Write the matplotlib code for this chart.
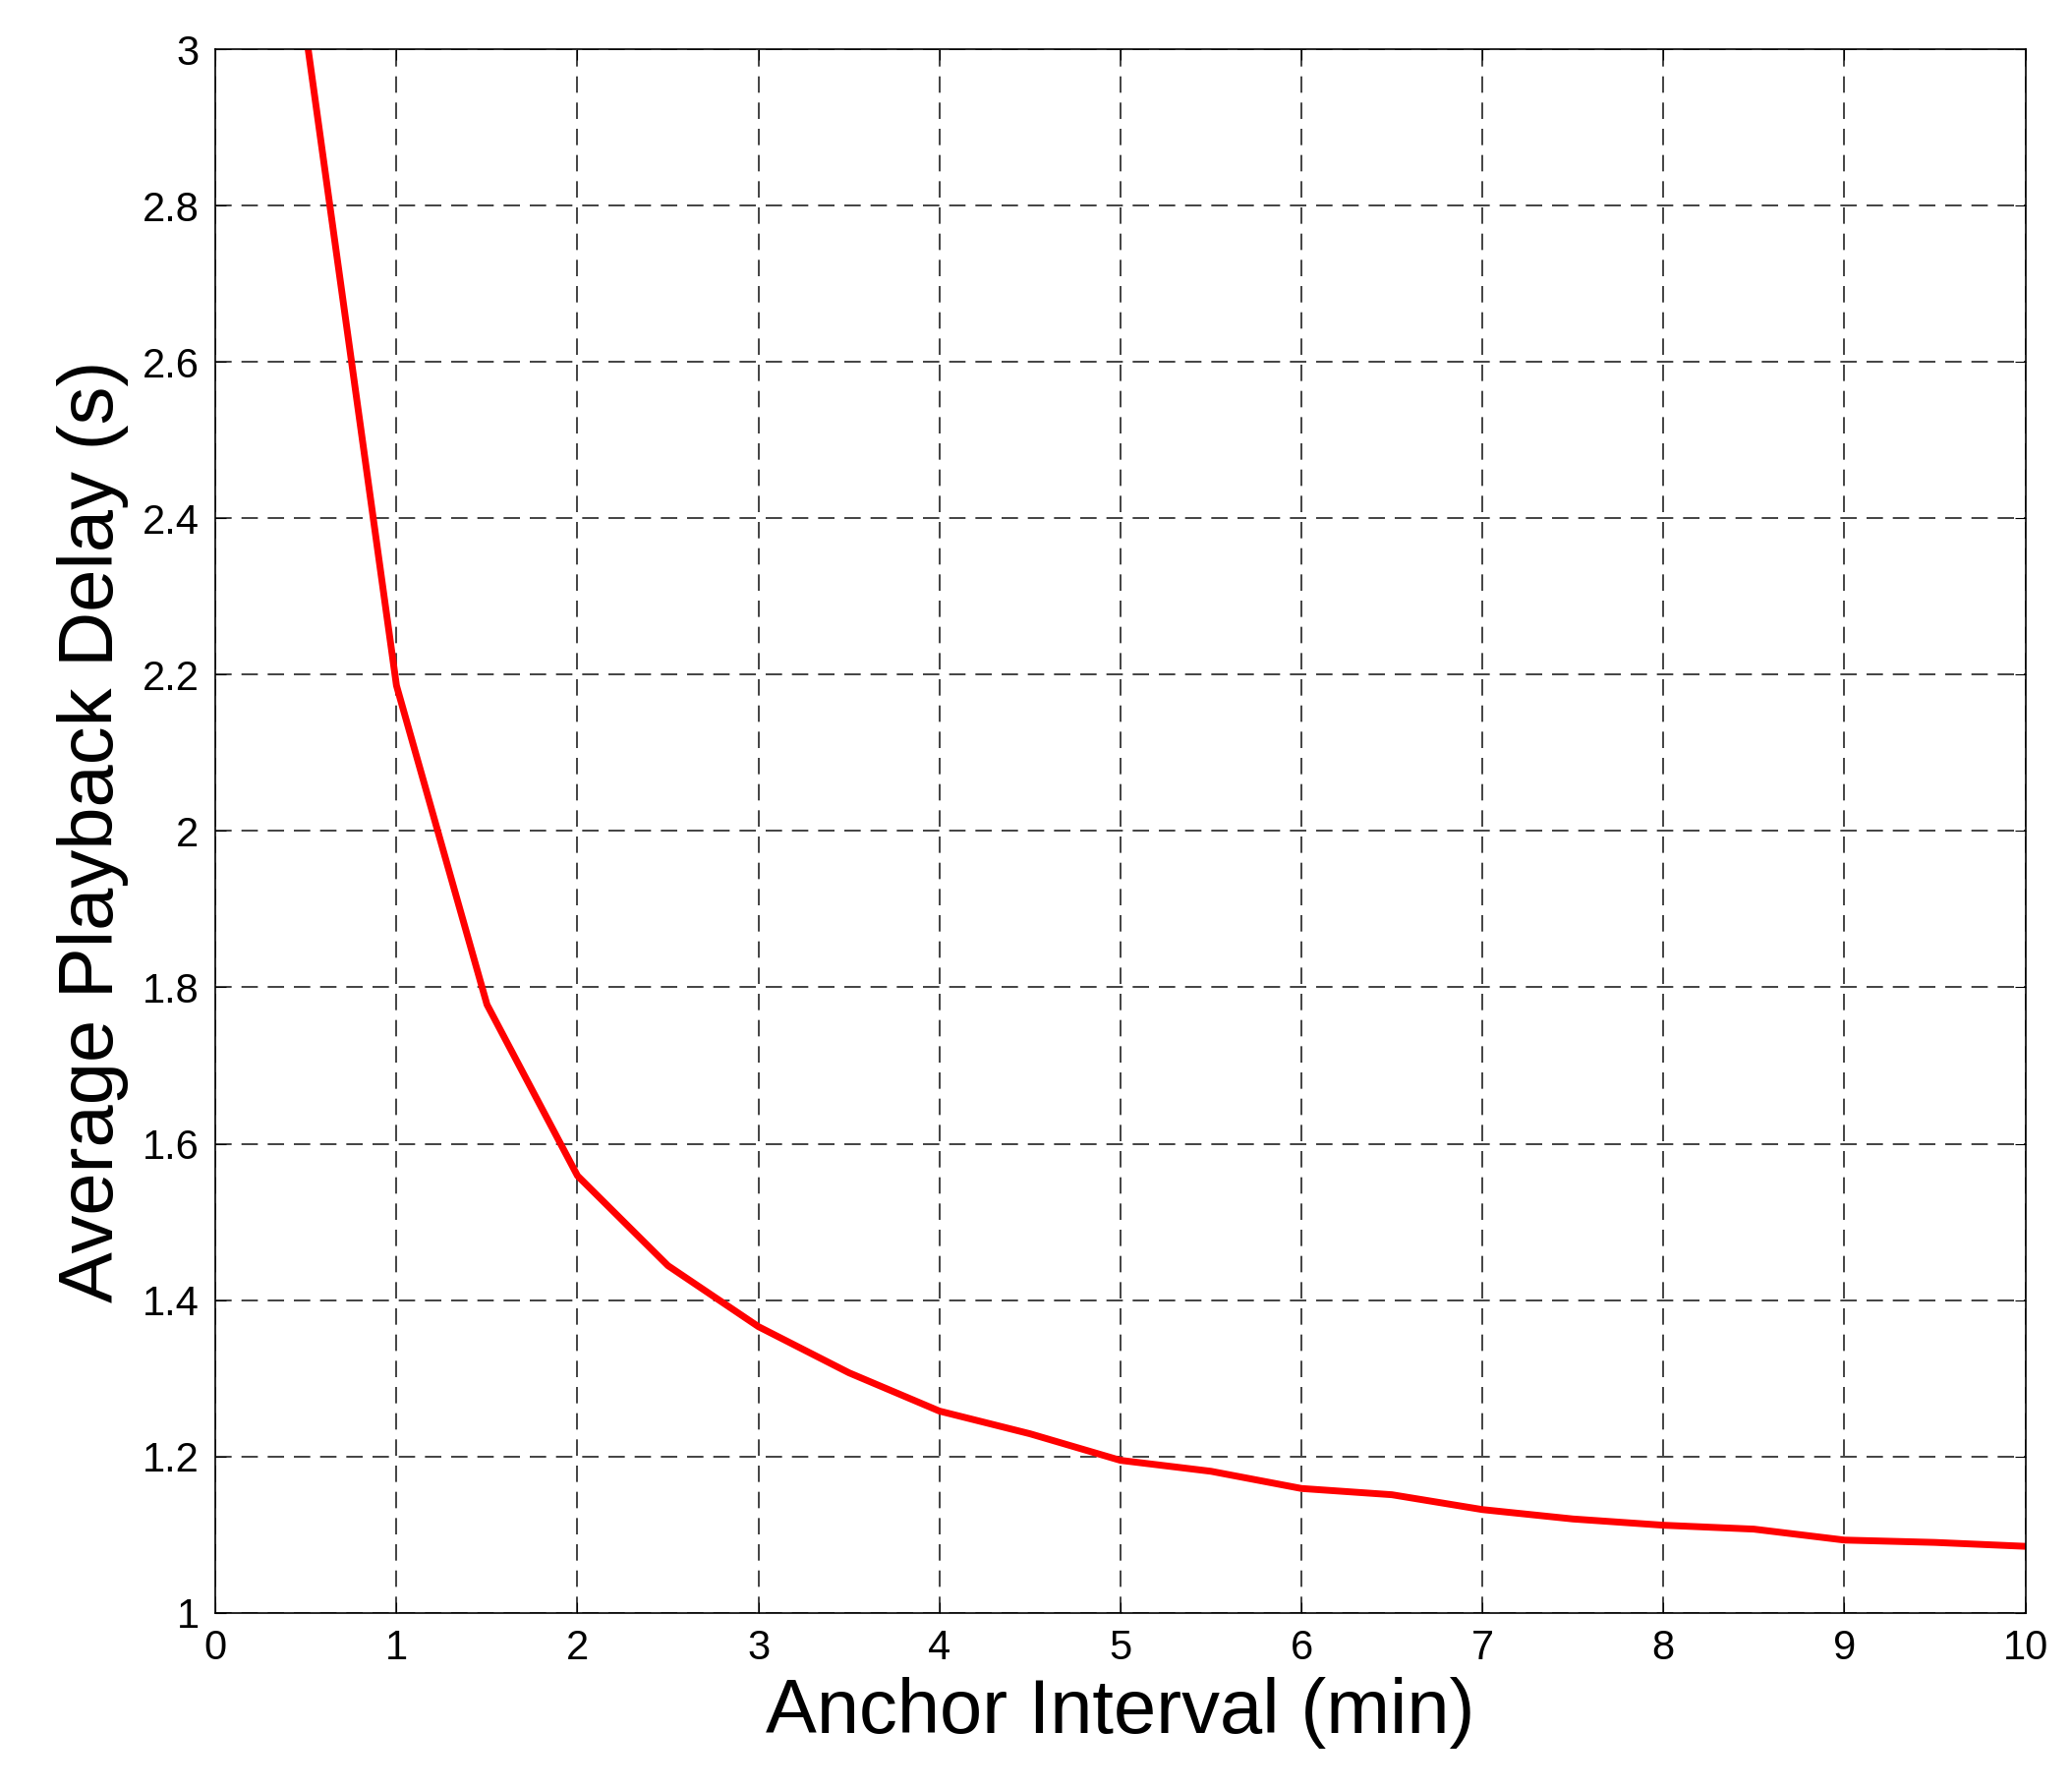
import matplotlib
matplotlib.use("Agg")
import matplotlib.pyplot as plt

# anchor interval (min) vs average playback delay (s)
interval = [0.5, 1, 1.5, 2, 2.5, 3, 3.5, 4, 4.5, 5, 5.5, 6, 6.5, 7, 7.5, 8, 8.5, 9, 9.5, 10]
delay = [3.02, 2.186, 1.778, 1.559, 1.444, 1.366, 1.307, 1.258, 1.229, 1.195,
         1.181, 1.159, 1.151, 1.132, 1.120, 1.112, 1.107, 1.093, 1.090, 1.085]

plt.rcParams['font.family'] = ['Liberation Sans', 'DejaVu Sans']

fig = plt.figure(figsize=(21.08, 18.2), dpi=100)
ax = fig.add_axes([0.104, 0.0985, 0.8735, 0.874])
ax.plot(interval, delay, color="red", linewidth=5)
ax.set_xlim(0, 10)
ax.set_ylim(1, 3)
ax.set_xticks(range(0, 11))
ax.set_yticks([1, 1.2, 1.4, 1.6, 1.8, 2, 2.2, 2.4, 2.6, 2.8, 3])
ax.set_yticklabels(["1", "1.2", "1.4", "1.6", "1.8", "2", "2.2", "2.4", "2.6", "2.8", "3"])
ax.grid(True, color="#222222", linestyle=(0, (10, 6)), linewidth=1.2)
ax.tick_params(labelsize=30, direction="in", length=8, top=True, right=True, pad=12)
for s in ax.spines.values():
    s.set_linewidth(1.2)
ax.set_xlabel("Anchor Interval (min)", fontsize=56, labelpad=6)
ax.set_ylabel("Average Playback Delay (s)", fontsize=56, labelpad=10)
fig.savefig("out.png")
